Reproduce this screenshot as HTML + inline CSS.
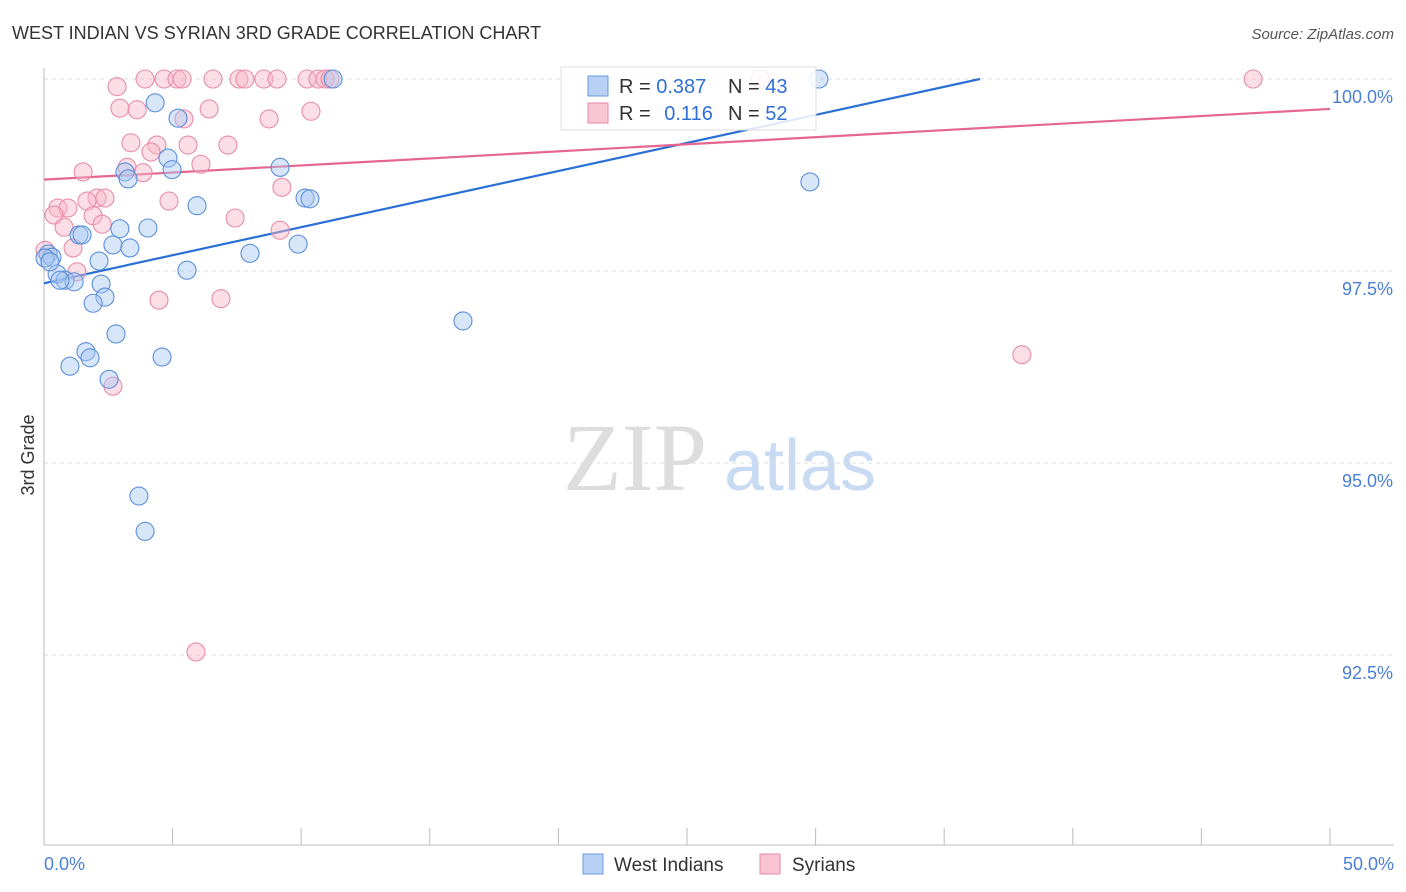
<!DOCTYPE html>
<html><head><meta charset="utf-8"><style>
body{margin:0;background:#fff;font-family:"Liberation Sans",sans-serif;}
svg{display:block}
</style></head><body>
<svg id="chart" width="1406" height="892">
<text x="12" y="39" font-size="18" fill="#333">WEST INDIAN VS SYRIAN 3RD GRADE CORRELATION CHART</text>
<text x="1394" y="39" font-size="15" fill="#555" font-style="italic" text-anchor="end">Source: ZipAtlas.com</text>
<text transform="translate(34,455) rotate(-90)" font-size="18" fill="#333" text-anchor="middle">3rd Grade</text>
<g>
<text x="635" y="490" font-size="96" fill="#ddd" font-family="Liberation Serif,serif" text-anchor="middle">ZIP</text>
<text x="800" y="490" font-size="72" fill="#c9daf3" text-anchor="middle">atlas</text>
</g>
<g id="grid"></g><g id="axes"></g><g id="lines"></g><g id="pts"></g>
<g>
<rect x="561" y="67" width="255" height="63" fill="#fff" fill-opacity="0.85" stroke="#ddd"/>
<rect x="588" y="76" width="20" height="20" fill="#b7d0f3" stroke="#6a9ae0"/>
<text x="619" y="93" font-size="20" fill="#333">R = <tspan fill="#2f6fd6">0.387</tspan></text>
<text x="728" y="93" font-size="20" fill="#333">N = <tspan fill="#2f6fd6">43</tspan></text>
<rect x="588" y="103" width="20" height="20" fill="#f9c4d3" stroke="#e88aa6"/>
<text x="619" y="120" font-size="20" fill="#333">R = <tspan fill="#2f6fd6" dx="8">0.116</tspan></text>
<text x="728" y="120" font-size="20" fill="#333">N = <tspan fill="#2f6fd6">52</tspan></text>
</g>
<g>
<rect x="583" y="854" width="20" height="20" fill="#b7d0f3" stroke="#6a9ae0"/>
<text x="614" y="871" font-size="19" fill="#333">West Indians</text>
<rect x="760" y="854" width="20" height="20" fill="#f9c4d3" stroke="#e88aa6"/>
<text x="792" y="871" font-size="19" fill="#333">Syrians</text>
</g>
</svg>
<script>
const yTicks=[100,97.5,95,92.5];
const yTickLabels=["100.0%","97.5%","95.0%","92.5%"];
const xEndLabels=["0.0%","50.0%"];
const blueX=[4.32,5.21,4.82,4.98,3.15,3.27,9.18,10.15,10.34,5.95,2.95,4.04,1.36,1.48,2.68,3.34,9.88,8.01,2.14,0.16,0.31,5.56,0.51,0.82,1.17,2.22,2.37,1.91,2.80,1.63,1.79,4.59,1.01,2.53,3.69,3.93,16.29,29.78,30.13,11.24,0.04,0.62,0.23];
const blueY=[99.69,99.49,98.97,98.82,98.79,98.70,98.85,98.45,98.44,98.35,98.05,98.06,97.97,97.97,97.84,97.80,97.85,97.73,97.63,97.72,97.68,97.51,97.46,97.38,97.36,97.33,97.16,97.08,96.68,96.45,96.37,96.38,96.26,96.09,94.57,94.11,96.85,98.66,100,100,97.67,97.38,97.62];
const pinkX=[3.93,4.67,5.17,5.37,6.57,7.58,7.81,8.55,9.06,10.23,10.65,10.93,11.12,2.84,2.95,3.62,6.42,5.44,8.75,10.38,3.38,4.39,5.60,7.15,4.16,6.10,3.23,3.85,1.52,9.25,2.06,2.37,1.67,0.54,0.93,0.39,1.91,4.86,7.43,9.18,2.26,0.78,1.13,0.04,1.28,4.47,6.88,2.68,5.91,27.84,38.02,47.01];
const pinkY=[100,100,100,100,100,100,100,100,100,100,100,100,100,99.90,99.62,99.60,99.61,99.48,99.48,99.58,99.17,99.14,99.14,99.14,99.05,98.89,98.85,98.78,98.79,98.59,98.45,98.45,98.41,98.32,98.32,98.23,98.22,98.41,98.19,98.03,98.11,98.07,97.80,97.77,97.49,97.12,97.14,96.00,92.54,100,96.41,100];
const blueTrend=[97.34,0.0731];
const pinkTrend=[98.69,0.0184];
const NS="http://www.w3.org/2000/svg";
const X0=44,X1=1330,Y100=79,PPU=76.8;
const sx=v=>X0+v*(X1-X0)/50;
const sy=v=>Y100+(100-v)*PPU;
function mk(tag,attrs,parent){const e=document.createElementNS(NS,tag);for(const k in attrs)e.setAttribute(k,attrs[k]);parent.appendChild(e);return e;}
const grid=document.getElementById('grid'),axes=document.getElementById('axes');
yTicks.forEach((t,i)=>{
 const l=mk('line',{x1:X0,x2:1394,y1:sy(t),y2:sy(t),stroke:'#ddd','stroke-dasharray':'4,4'},grid);
 
 
 const tx=mk('text',{x:1393,y:sy(t)+24,'font-size':18,fill:'#4a7fd6','text-anchor':'end'},axes);
 tx.textContent=yTickLabels[i];
 
 
});
let a=mk('line',{x1:X0,x2:X0,y1:68,y2:845,stroke:'#bbb'},axes);


a=mk('line',{x1:X0,x2:1394,y1:845,y2:845,stroke:'#bbb'},axes);


for(let i=0;i<=10;i++){
 const t=mk('line',{x1:sx(i*5),x2:sx(i*5),y1:828,y2:845,stroke:'#bbb'},axes);
 
 
}
[[0,'start',44],[50,'end',1394]].forEach((d,i)=>{
 const t=mk('text',{x:d[2],y:870,'font-size':18,fill:'#4a7fd6','text-anchor':d[1]},axes);
 t.textContent=xEndLabels[i];
 
 
});
const pts=document.getElementById('pts');
function dots(xs,ys,fill,stroke,name){
 xs.forEach((x,i)=>{const c=mk('circle',{cx:sx(x),cy:sy(ys[i]),r:9,fill:fill,'fill-opacity':0.45,stroke:stroke,'stroke-width':1.1},pts);
 
 });
}
dots(pinkX,pinkY,'#f7b6c8','#e98ca8','syrian-point');
dots(blueX,blueY,'#a8c7f1','#5a8fdc','west-indian-point');
const lines=document.getElementById('lines');
let xe=Math.min(50,(100-blueTrend[0])/blueTrend[1]);
let ln=mk('line',{x1:sx(0),y1:sy(blueTrend[0]),x2:sx(xe),y2:sy(blueTrend[0]+blueTrend[1]*xe),stroke:'#2a6fd6','stroke-width':2.2},lines);


ln=mk('line',{x1:sx(0),y1:sy(pinkTrend[0]),x2:sx(50),y2:sy(pinkTrend[0]+pinkTrend[1]*50),stroke:'#e5668f','stroke-width':2.2},lines);


</script>
</body></html>
